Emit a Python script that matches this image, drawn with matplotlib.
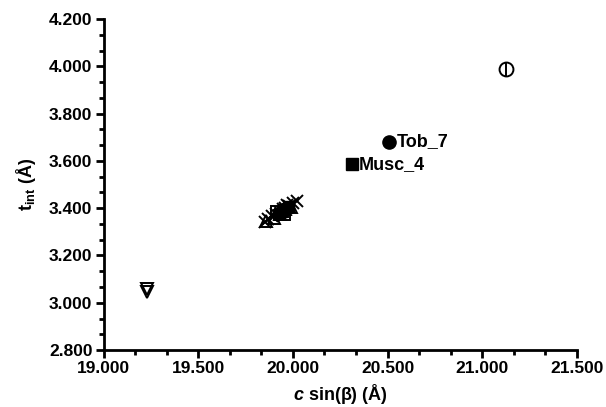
import matplotlib
matplotlib.use("Agg")
import matplotlib.pyplot as plt
from matplotlib.ticker import MultipleLocator, FormatStrFormatter

plt.rcParams['font.family'] = ['Liberation Sans', 'DejaVu Sans']
plt.rcParams['font.weight'] = 'bold'
plt.rcParams['mathtext.fontset'] = 'custom'
plt.rcParams['mathtext.rm'] = 'Liberation Sans:bold'
plt.rcParams['mathtext.bf'] = 'Liberation Sans:bold'
plt.rcParams['mathtext.it'] = 'Liberation Sans:italic:bold'
plt.rcParams['mathtext.bfit'] = 'Liberation Sans:italic:bold'

# data
cross_x = [19.85, 19.87, 19.89, 19.91, 19.93, 19.95, 19.96, 19.98, 20.00, 20.02, 19.97]
cross_y = [3.340, 3.355, 3.365, 3.375, 3.385, 3.395, 3.400, 3.410, 3.420, 3.430, 3.415]
tri_x = [19.86, 19.90, 19.93, 19.96, 19.99]
tri_y = [3.345, 3.360, 3.375, 3.395, 3.405]
sq_x = [19.91, 19.93, 19.95, 19.96, 19.98]
sq_y = [3.390, 3.375, 3.385, 3.370, 3.405]
fill_x = [19.92, 19.94, 19.95, 19.97, 19.98]
fill_y = [3.375, 3.385, 3.395, 3.400, 3.410]

tob_x, tob_y = [20.51], [3.680]
musc_x, musc_y = [20.31], [3.585]
phi_x, phi_y = [21.125], [3.990]
tdown_x = [19.228, 19.228]
tdown_y = [3.060, 3.046]

fig = plt.figure(figsize=(6.06, 4.07), dpi=100)
ax = fig.add_axes([0.171, 0.140, 0.781, 0.813])

ax.plot(cross_x, cross_y, 'x', color='black', ms=8.5, mew=1.4, ls='none')
ax.plot(tri_x, tri_y, '^', mfc='none', mec='black', ms=8.5, mew=1.4, ls='none')
ax.plot(sq_x, sq_y, 's', mfc='none', mec='black', ms=7.5, mew=1.4, ls='none')
ax.plot(fill_x, fill_y, 's', color='black', ms=6.5, ls='none')

ax.plot(tob_x, tob_y, 'o', color='black', ms=9.5, ls='none')
ax.text(tob_x[0] + 0.04, tob_y[0], 'Tob_7', fontsize=13, fontweight='bold', va='center')
ax.plot(musc_x, musc_y, 's', color='black', ms=8.5, ls='none')
ax.text(musc_x[0] + 0.035, musc_y[0], 'Musc_4', fontsize=13, fontweight='bold', va='center')

ax.plot(phi_x, phi_y, 'o', mfc='none', mec='black', ms=10, mew=1.4, ls='none')
ax.plot(phi_x, phi_y, '|', color='black', ms=10, mew=1.4, ls='none')
ax.plot(tdown_x, tdown_y, 'v', mfc='none', mec='black', ms=9, mew=1.4, ls='none')

ax.set_xlim(19.0, 21.5)
ax.set_ylim(2.8, 4.2)
ax.xaxis.set_major_locator(MultipleLocator(0.5))
ax.xaxis.set_minor_locator(MultipleLocator(0.5 / 3))
ax.yaxis.set_major_locator(MultipleLocator(0.2))
ax.yaxis.set_minor_locator(MultipleLocator(0.2 / 3))
ax.xaxis.set_major_formatter(FormatStrFormatter('%.3f'))
ax.yaxis.set_major_formatter(FormatStrFormatter('%.3f'))

for s in ['top', 'right']:
    ax.spines[s].set_visible(False)
for s in ['left', 'bottom']:
    ax.spines[s].set_linewidth(2)
ax.tick_params(which='major', direction='out', length=6, width=2, labelsize=12.5, pad=2)
ax.tick_params(which='minor', direction='out', length=3.5, width=2)
for lab in ax.get_xticklabels() + ax.get_yticklabels():
    lab.set_fontweight('bold')

ax.set_xlabel(r'$\mathbfit{c}$ sin(β) (Å)', fontsize=13, fontweight='bold', labelpad=4)
ax.set_ylabel(r'$\mathrm{t}_{\mathrm{int}}$ (Å)', fontsize=13, fontweight='bold', labelpad=8)

fig.savefig('out.png', dpi=100)
